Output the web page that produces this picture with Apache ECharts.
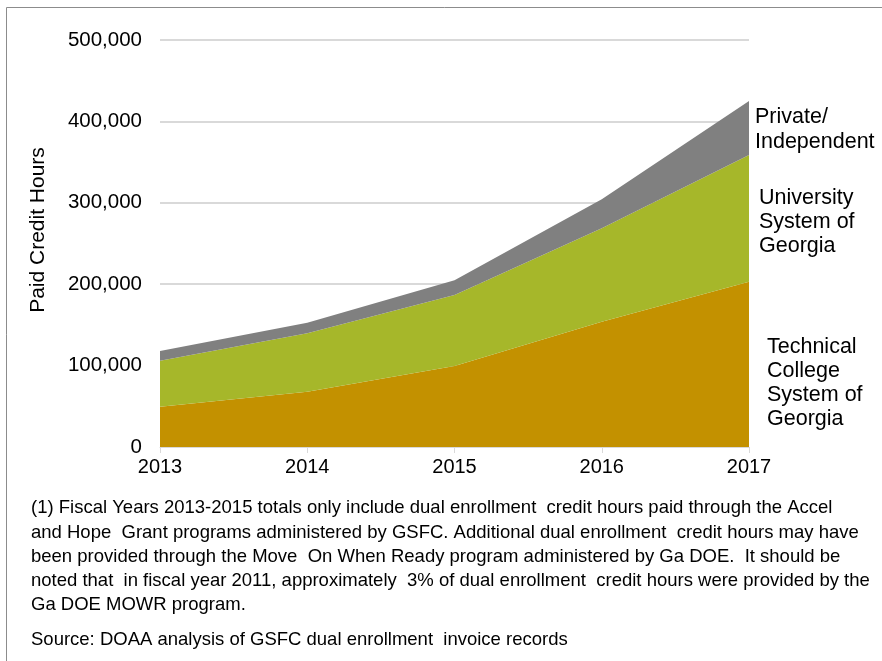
<!DOCTYPE html>
<html>
<head>
<meta charset="utf-8">
<script src="https://cdn.jsdelivr.net/npm/echarts@6/dist/echarts.min.js"></script>
<style>
html,body{margin:0;padding:0;background:#fff;}
#chart{width:882px;height:661px;}
</style>
</head>
<body>
<div id="chart"></div>
<script>
const years = ['2013','2014','2015','2016','2017'];
const technical = [49500, 68000, 99500, 154000, 203000];
const university = [56500, 71700, 87200, 114700, 155700];
const privateInd = [11900, 13000, 18300, 35600, 66300];
const seriesNames = ['Technical College System of Georgia','University System of Georgia','Private/Independent'];
const footnoteLines = [
  '(1) Fiscal Years 2013-2015 totals only include dual enrollment  credit hours paid through the Accel',
  'and Hope  Grant programs administered by GSFC. Additional dual enrollment  credit hours may have',
  'been provided through the Move  On When Ready program administered by Ga DOE.  It should be',
  'noted that  in fiscal year 2011, approximately  3% of dual enrollment  credit hours were provided by the',
  'Ga DOE MOWR program.'
];
const sourceLine = 'Source: DOAA analysis of GSFC dual enrollment  invoice records';

const font = 'Liberation Sans, Arial, sans-serif';
const chart = echarts.init(document.getElementById('chart'));

const lblFont = '21.5px ' + font;
const graphics = [
  {type:'rect', shape:{x:6.5,y:7.5,width:900,height:700}, style:{fill:'none',stroke:'#8c8c8c',lineWidth:1}, silent:true},
  {type:'text', x:38, y:230, rotation:Math.PI/2, style:{text:'Paid Credit Hours', font:'21px '+font, fill:'#000', textAlign:'center', textVerticalAlign:'middle'}},
  {type:'text', x:755, y:117, style:{text:'Private/', font:lblFont, fill:'#000', textVerticalAlign:'middle'}},
  {type:'text', x:755, y:142, style:{text:'Independent', font:lblFont, fill:'#000', textVerticalAlign:'middle'}},
  {type:'text', x:759, y:198, style:{text:'University', font:lblFont, fill:'#000', textVerticalAlign:'middle'}},
  {type:'text', x:759, y:222, style:{text:'System of', font:lblFont, fill:'#000', textVerticalAlign:'middle'}},
  {type:'text', x:759, y:246, style:{text:'Georgia', font:lblFont, fill:'#000', textVerticalAlign:'middle'}},
  {type:'text', x:767, y:347, style:{text:'Technical', font:lblFont, fill:'#000', textVerticalAlign:'middle'}},
  {type:'text', x:767, y:371, style:{text:'College', font:lblFont, fill:'#000', textVerticalAlign:'middle'}},
  {type:'text', x:767, y:395, style:{text:'System of', font:lblFont, fill:'#000', textVerticalAlign:'middle'}},
  {type:'text', x:767, y:419, style:{text:'Georgia', font:lblFont, fill:'#000', textVerticalAlign:'middle'}}
];
const footY = [508, 533, 557, 581, 605];
const footFont = '18.5px ' + font;
footnoteLines.forEach((t,i)=>{
  graphics.push({type:'text', x:31, y:footY[i], style:{text:t, font:footFont, fill:'#000', textVerticalAlign:'middle'}});
});
graphics.push({type:'text', x:31, y:640, style:{text:sourceLine, font:footFont, fill:'#000', textVerticalAlign:'middle'}});

const colors = ['#C39100','#A6B72A','#808080'];
const dataSets = [technical, university, privateInd];

chart.setOption({
  animation:false,
  grid:{left:160, right:133, top:40, bottom:214, containLabel:false},
  xAxis:{
    type:'category', data:years, boundaryGap:false,
    axisLine:{lineStyle:{color:'#d9d9d9', width:1}},
    axisTick:{show:true, alignWithLabel:true, length:6, lineStyle:{color:'#d9d9d9'}},
    axisLabel:{color:'#000', fontSize:20, fontFamily:font, margin:10},
    splitLine:{show:false}
  },
  yAxis:{
    type:'value', min:0, max:500000, interval:100000,
    axisLine:{show:false}, axisTick:{show:false},
    axisLabel:{color:'#000', fontSize:20.5, fontFamily:font, margin:18,
      formatter:v=>v.toLocaleString('en-US')},
    splitLine:{lineStyle:{color:'#d9d9d9', width:2}}
  },
  series: dataSets.map((d,i)=>({
    name:seriesNames[i], type:'line', stack:'total', data:d,
    symbol:'none', lineStyle:{width:0}, areaStyle:{color:colors[i], opacity:1},
    itemStyle:{color:colors[i]}
  })),
  graphic:graphics
});
</script>
</body>
</html>
